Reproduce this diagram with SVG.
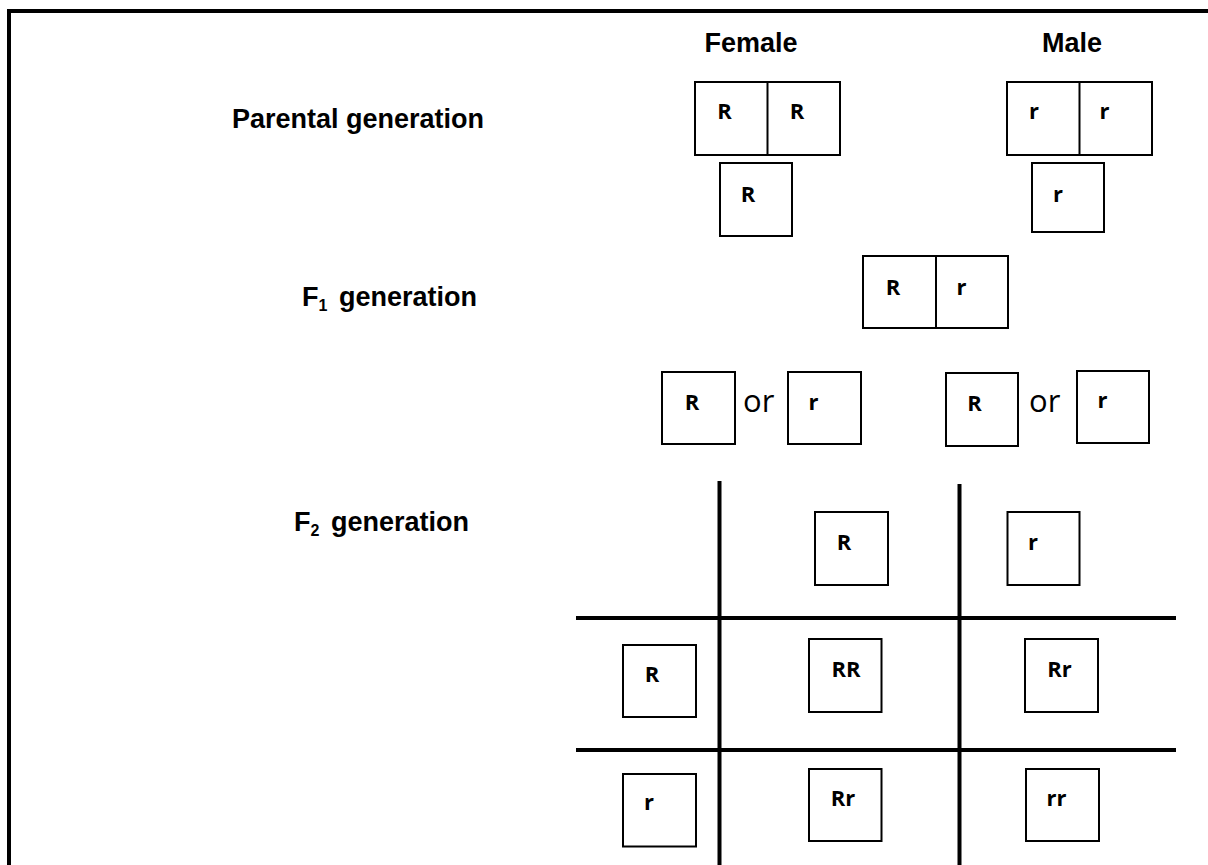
<svg xmlns="http://www.w3.org/2000/svg" width="1208" height="865" viewBox="0 0 1208 865">
<style>
.box{fill:#fff;stroke:#000;stroke-width:2}
.div{stroke:#000;stroke-width:2}
.lab{font-family:"Liberation Sans",Arial,sans-serif;font-weight:700;font-size:27px;fill:#000}
.al{font-family:"Open Sans","Noto Sans",sans-serif;font-weight:700;font-size:22px;fill:#000;text-anchor:middle}
.or{font-family:"Open Sans","Noto Sans",sans-serif;font-weight:400;font-size:31px;fill:#000}
.grid{stroke:#000;stroke-width:4;fill:none}
</style>
<rect width="1208" height="865" fill="#fff"/>
<path id="frame" d="M9,865 V11 H1208" fill="none" stroke="#000" stroke-width="4"/>

<g id="labels">
<text class="lab" x="751" y="52" text-anchor="middle">Female</text>
<text class="lab" x="1072" y="52" text-anchor="middle">Male</text>
<text class="lab" x="232" y="128">Parental generation</text>
<text class="lab" x="302" y="306">F<tspan font-size="16" dy="5">1</tspan><tspan x="339" dy="-5">generation</tspan></text>
<text class="lab" x="294" y="531">F<tspan font-size="16" dy="5">2</tspan><tspan x="331" dy="-5">generation</tspan></text>
</g>

<g id="female-genotype">
<rect class="box" x="695" y="82" width="145" height="73"/>
<line class="div" x1="767.5" y1="82" x2="767.5" y2="155"/>
<text class="al" x="724.5" y="119">R</text>
<text class="al" x="797" y="119">R</text>
</g>
<g id="female-gamete">
<rect class="box" x="720" y="163" width="72" height="73"/>
<text class="al" x="748" y="202">R</text>
</g>
<g id="male-genotype">
<rect class="box" x="1007" y="82" width="145" height="73"/>
<line class="div" x1="1079.5" y1="82" x2="1079.5" y2="155"/>
<text class="al" x="1034" y="119">r</text>
<text class="al" x="1104.5" y="119">r</text>
</g>
<g id="male-gamete">
<rect class="box" x="1032" y="163" width="72" height="69"/>
<text class="al" x="1058" y="202">r</text>
</g>

<g id="f1-genotype">
<rect class="box" x="863" y="256" width="145" height="72"/>
<line class="div" x1="936" y1="256" x2="936" y2="328"/>
<text class="al" x="893" y="295">R</text>
<text class="al" x="961.5" y="295">r</text>
</g>

<g id="f1-female-gametes">
<rect class="box" x="662" y="372" width="73" height="72"/>
<text class="al" x="692" y="410">R</text>
<text class="or" x="743" y="412">or</text>
<rect class="box" x="788" y="372" width="73" height="72"/>
<text class="al" x="813.5" y="410">r</text>
</g>
<g id="f1-male-gametes">
<rect class="box" x="946" y="373" width="72" height="73"/>
<text class="al" x="974.5" y="411">R</text>
<text class="or" x="1029" y="412">or</text>
<rect class="box" x="1077" y="371" width="72" height="72"/>
<text class="al" x="1102.5" y="408">r</text>
</g>

<g id="grid-lines">
<line class="grid" x1="719.5" y1="481" x2="719.5" y2="865"/>
<line class="grid" x1="959.5" y1="484" x2="959.5" y2="865"/>
<line class="grid" x1="576" y1="618" x2="1176" y2="618"/>
<line class="grid" x1="576" y1="750" x2="1176" y2="750"/>
</g>

<g id="header-R">
<rect class="box" x="815" y="512" width="73" height="73"/>
<text class="al" x="844" y="550">R</text>
</g>
<g id="header-r">
<rect class="box" x="1007.5" y="512" width="72" height="73"/>
<text class="al" x="1033" y="550">r</text>
</g>
<g id="row-R">
<rect class="box" x="623" y="645" width="73" height="72"/>
<text class="al" x="652" y="682">R</text>
</g>
<g id="cell-RR">
<rect class="box" x="809" y="639" width="72.5" height="73"/>
<text class="al" x="846" y="677">RR</text>
</g>
<g id="cell-Rr-1">
<rect class="box" x="1025" y="639" width="73" height="73"/>
<text class="al" x="1059.5" y="677">Rr</text>
</g>
<g id="row-r">
<rect class="box" x="623" y="774" width="73" height="72.5"/>
<text class="al" x="649" y="810">r</text>
</g>
<g id="cell-Rr-2">
<rect class="box" x="809" y="769" width="72.5" height="72"/>
<text class="al" x="843" y="806">Rr</text>
</g>
<g id="cell-rr">
<rect class="box" x="1026" y="769" width="73" height="72"/>
<text class="al" x="1056.5" y="806">rr</text>
</g>
</svg>
